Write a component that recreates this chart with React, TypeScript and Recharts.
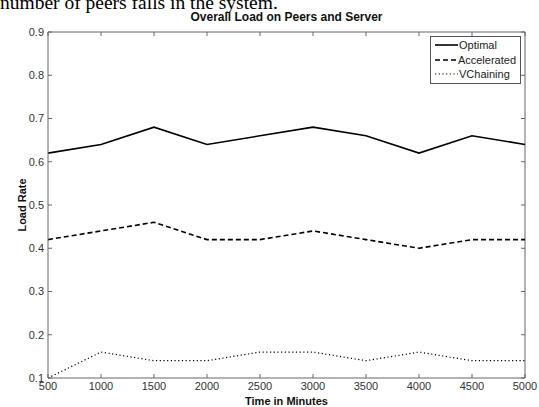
import React from 'react';
import { LineChart, Line, XAxis, YAxis, Legend, ReferenceLine } from 'recharts';

const times = [500, 1000, 1500, 2000, 2500, 3000, 3500, 4000, 4500, 5000];
const optimal = [0.62, 0.64, 0.68, 0.64, 0.66, 0.68, 0.66, 0.62, 0.66, 0.64];
const accelerated = [0.42, 0.44, 0.46, 0.42, 0.42, 0.44, 0.42, 0.40, 0.42, 0.42];
const vchaining = [0.10, 0.16, 0.14, 0.14, 0.16, 0.16, 0.14, 0.16, 0.14, 0.14];

const xTicks = [500, 1000, 1500, 2000, 2500, 3000, 3500, 4000, 4500, 5000];
const yTicks = [0.1, 0.2, 0.3, 0.4, 0.5, 0.6, 0.7, 0.8, 0.9];

const seriesList = [
  { key: 'optimal', name: 'Optimal', dash: undefined, width: 1.6 },
  { key: 'accelerated', name: 'Accelerated', dash: '5 3', width: 1.6 },
  { key: 'vchaining', name: 'VChaining', dash: '1.2 2.5', width: 1.2 },
];

const data = times.map((t, i) => ({
  time: t,
  optimal: optimal[i],
  accelerated: accelerated[i],
  vchaining: vchaining[i],
}));

const xMin = xTicks[0];
const xMax = xTicks[xTicks.length - 1];
const yMin = yTicks[0];
const yMax = yTicks[yTicks.length - 1];
// inward tick length on the top/right frame edges, in data units (~4px)
const xTickLen = (xMax - xMin) / 120;
const yTickLen = (yMax - yMin) / 86;

const font = 'Liberation Sans, Arial, sans-serif';
const tickStyle = { fontSize: 11, fill: '#333', fontFamily: font };
const frameColor = '#666';
const axisLine = { stroke: frameColor, strokeWidth: 1 };

function LegendBox() {
  return (
    <div
      style={{
        border: '1px solid #555',
        background: '#fff',
        padding: '1px 4px',
        fontFamily: font,
        fontSize: 11,
        color: '#222',
        lineHeight: '14.5px',
      }}
    >
      {seriesList.map((s) => (
        <div key={s.key} style={{ display: 'flex', alignItems: 'center' }}>
          <svg width={24} height={10}>
            <line x1={0} y1={5} x2={23} y2={5} stroke="#000" strokeWidth={s.width} strokeDasharray={s.dash} />
          </svg>
          <span>{s.name}</span>
        </div>
      ))}
    </div>
  );
}

export default function App() {
  return (
    <div style={{ position: 'absolute', left: 0, top: 0, width: 539, height: 407, background: '#fff', overflow: 'hidden' }}>
      <div
        style={{
          position: 'absolute',
          left: 0,
          top: -7,
          fontFamily: 'Liberation Serif, Times New Roman, serif',
          fontSize: 19.5,
          color: '#000',
          whiteSpace: 'nowrap',
          lineHeight: '19px',
        }}
      >
        number of peers falls in the system.
      </div>
      <div
        style={{
          position: 'absolute',
          left: 48,
          width: 477,
          top: 11,
          textAlign: 'center',
          fontFamily: font,
          fontSize: 12,
          fontWeight: 'bold',
          color: '#111',
          lineHeight: '13px',
        }}
      >
        Overall Load on Peers and Server
      </div>
      <LineChart width={539} height={407} data={data} margin={{ top: 32, right: 14, left: 0, bottom: 0 }}>
        <XAxis
          dataKey="time"
          type="number"
          domain={[xMin, xMax]}
          ticks={xTicks}
          tickSize={-4}
          tickMargin={8}
          tick={tickStyle}
          axisLine={axisLine}
          tickLine={axisLine}
          height={29}
          label={{ value: 'Time in Minutes', position: 'insideBottom', offset: 2, style: { fontSize: 11, fontWeight: 'bold', fill: '#111', fontFamily: font } }}
        />
        <YAxis
          type="number"
          domain={[yMin, yMax]}
          ticks={yTicks}
          tickSize={-4}
          tickMargin={8}
          tick={tickStyle}
          tickFormatter={(v: number) => v.toFixed(1)}
          axisLine={axisLine}
          tickLine={axisLine}
          width={48}
          label={{ value: 'Load Rate', angle: -90, position: 'insideLeft', offset: 22, style: { fontSize: 11, fontWeight: 'bold', fill: '#111', fontFamily: font, textAnchor: 'middle' } }}
        />
        {/* top and right edges of the frame */}
        <ReferenceLine y={yMax} stroke={frameColor} strokeWidth={1} />
        <ReferenceLine x={xMax} stroke={frameColor} strokeWidth={1} />
        {xTicks.map((t) => (
          <ReferenceLine
            key={'xt' + t}
            segment={[{ x: t, y: yMax }, { x: t, y: yMax - yTickLen }]}
            stroke={frameColor}
            strokeWidth={1}
          />
        ))}
        {yTicks.map((t) => (
          <ReferenceLine
            key={'yt' + t}
            segment={[{ x: xMax, y: t }, { x: xMax - xTickLen, y: t }]}
            stroke={frameColor}
            strokeWidth={1}
          />
        ))}
        <Legend
          layout="vertical"
          align="center"
          verticalAlign="middle"
          content={() => <LegendBox />}
          wrapperStyle={{ position: 'absolute', left: 430, top: 36, width: 91 }}
        />
        {seriesList.map((s) => (
          <Line
            key={s.key}
            type="linear"
            dataKey={s.key}
            name={s.name}
            stroke="#000"
            strokeWidth={s.width}
            strokeDasharray={s.dash}
            dot={false}
            isAnimationActive={false}
          />
        ))}
      </LineChart>
    </div>
  );
}
